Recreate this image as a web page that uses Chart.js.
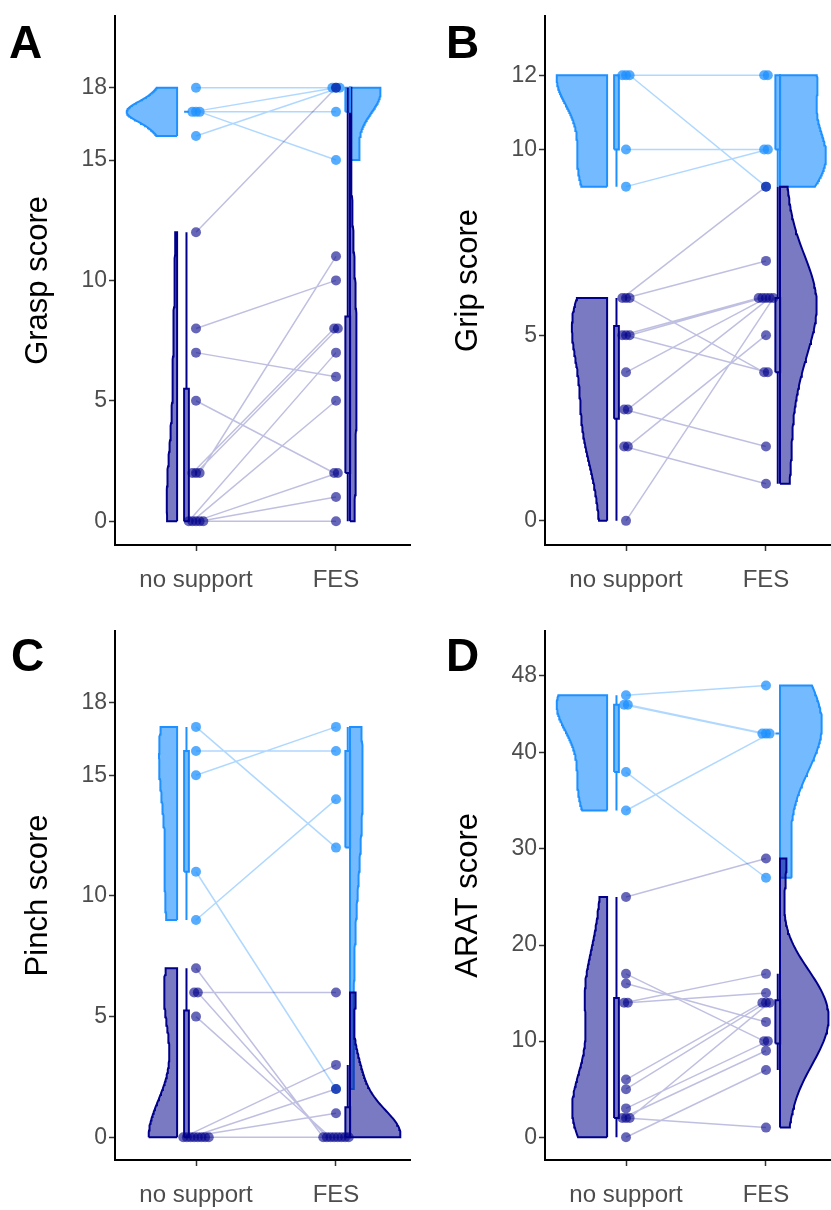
<!DOCTYPE html>
<html>
<head>
<meta charset="utf-8">
<script src="https://cdn.jsdelivr.net/npm/chart.js@4.4.0/dist/chart.umd.min.js"></script>
<style>
  body { margin: 0; width: 831px; height: 1210px; overflow: hidden; background: #fff; position: relative;
         font-family: "Liberation Sans", Arial, sans-serif; }
  canvas { position: absolute; }
  .tag { position: absolute; font-weight: bold; font-size: 46px; line-height: 1; color: #000; }
</style>
</head>
<body>
<canvas id="cA" width="430" height="615" style="left:0;top:0"></canvas>
<canvas id="cB" width="430" height="615" style="left:430px;top:0"></canvas>
<canvas id="cC" width="430" height="615" style="left:0;top:615px"></canvas>
<canvas id="cD" width="430" height="615" style="left:430px;top:615px"></canvas>
<div class="tag" style="left:9px;top:19px">A</div>
<div class="tag" style="left:446px;top:19px">B</div>
<div class="tag" style="left:11px;top:632px">C</div>
<div class="tag" style="left:446px;top:632px">D</div>
<script>
// conditions on the x axis
const conditions = ['no support', 'FES'];

// A: grasp score, paired per patient (light = upper subgroup, dark = lower subgroup)
const graspLightNS  = [18, 17, 17, 17, 16];
const graspLightFES = [18, 18, 17, 15, 18];
const graspDarkNS   = [12, 8, 7, 5, 2, 2, 2, 0, 0, 0, 0, 0];
const graspDarkFES  = [18, 10, 6, 2, 8, 8, 11, 7, 5, 2, 1, 0];
const graspTicks    = [0, 5, 10, 15, 18];

// B: grip score
const gripLightNS  = [12, 12, 12, 10, 9];
const gripLightFES = [12, 12, 9, 10, 10];
const gripDarkNS   = [6, 6, 6, 5, 5, 5, 4, 3, 3, 2, 2, 0];
const gripDarkFES  = [9, 7, 4, 6, 4, 6, 6, 2, 6, 1, 5, 6];
const gripTicks    = [0, 5, 10, 12];

// C: pinch score
const pinchLightNS  = [17, 16, 15, 11, 9];
const pinchLightFES = [12, 16, 17, 2, 14];
const pinchDarkNS   = [7, 6, 6, 5, 0, 0, 0, 0, 0, 0, 0, 0];
const pinchDarkFES  = [0, 6, 0, 0, 3, 1, 2, 0, 0, 0, 0, 0];
const pinchTicks    = [0, 5, 10, 15, 18];

// D: ARAT score
const aratLightNS  = [46, 45, 45, 38, 34];
const aratLightFES = [47, 42, 42, 27, 42];
const aratDarkNS   = [25, 17, 16, 14, 14, 6, 5, 3, 2, 2, 2, 0];
const aratDarkFES  = [29, 10, 12, 17, 15, 14, 14, 10, 9, 1, 14, 7];
const aratTicks    = [0, 10, 20, 30, 40, 48];

Chart.defaults.font.family = '"Liberation Sans", Arial, sans-serif';

const LIGHT = { stroke: 'rgb(30,144,255)', fill: 'rgba(30,144,255,0.62)', point: 'rgba(30,144,255,0.75)', line: 'rgba(30,144,255,0.35)' };
const DARK  = { stroke: 'rgb(0,0,139)', fill: 'rgba(0,0,139,0.52)', point: 'rgba(0,0,139,0.6)', line: 'rgba(0,0,139,0.25)' };

function quantile(arr, p) {
  const s = [...arr].sort((a, b) => a - b);
  const h = (s.length - 1) * p, lo = Math.floor(h);
  const hi = Math.min(lo + 1, s.length - 1);
  return s[lo] + (h - lo) * (s[hi] - s[lo]);
}

// rule-of-thumb bandwidth from the standard deviation
function bandwidth(v) {
  const n = v.length;
  const m = v.reduce((a, b) => a + b, 0) / n;
  const sd = Math.sqrt(v.reduce((a, b) => a + (b - m) ** 2, 0) / (n - 1)) || 1;
  return 0.9 * sd * Math.pow(n, -0.2);
}

function kde(v, bw, y) {
  let s = 0;
  v.forEach(x => { s += Math.exp(-0.5 * ((y - x) / bw) ** 2); });
  return s / (v.length * bw * Math.sqrt(2 * Math.PI));
}

function boxStats(v) {
  const q1 = quantile(v, 0.25), q3 = quantile(v, 0.75), iqr = q3 - q1;
  const inside = v.filter(x => x >= q1 - 1.5 * iqr && x <= q3 + 1.5 * iqr);
  return { q1, q3, lo: Math.min(...inside), hi: Math.max(...inside) };
}

// spread tied values a little so they don't sit exactly on top of each other
function spread(values, pos) {
  const counts = {}, seen = {};
  values.forEach(v => { counts[v] = (counts[v] || 0) + 1; });
  return values.map(v => {
    seen[v] = seen[v] === undefined ? 0 : seen[v] + 1;
    return { x: pos + (seen[v] - (counts[v] - 1) / 2) * 0.026, y: v };
  });
}

const sides = [
  { key: 'ns',  pos: 1, base: -0.135, box: -0.068, dir: -1 },
  { key: 'fes', pos: 2, base: 0.1,    box: 0.084,  dir: 1 }
];

function makePanel(id, title, ticks, yMin, yMax, groups) {
  const datasets = [];
  const profiles = [];
  groups.forEach((g, gi) => sides.forEach(s => {
    const v = g[s.key];
    const bw = bandwidth(v);
    const lo = Math.min(...v), hi = Math.max(...v);
    const pts = [];
    for (let i = 0; i <= 100; i++) {
      const y = lo + (hi - lo) * i / 100;
      pts.push({ y, d: kde(v, bw, y) });
    }
    profiles.push({ g, gi, s, pts, lo, hi });
  }));
  const maxD = Math.max(...profiles.flatMap(p => p.pts.map(q => q.d)));

  profiles.forEach(p => {
    const c = p.g.color;
    const base = p.s.pos + p.s.base;
    const data = [{ x: base, y: p.lo }];
    p.pts.forEach(q => data.push({ x: base + p.s.dir * q.d / maxD * 0.36, y: q.y }));
    data.push({ x: base, y: p.hi }, { x: base, y: p.lo });
    datasets.push({ data, borderColor: c.stroke, backgroundColor: c.fill, borderWidth: 2,
      fill: 'shape', pointRadius: 0, tension: 0, order: 20 - p.gi });

    const b = boxStats(p.g[p.s.key]);
    const bx = p.s.pos + p.s.box, hw = 0.017;
    datasets.push({ data: [{ x: bx - hw, y: b.q1 }, { x: bx + hw, y: b.q1 }, { x: bx + hw, y: b.q3 },
      { x: bx - hw, y: b.q3 }, { x: bx - hw, y: b.q1 }],
      borderColor: c.stroke, backgroundColor: c.fill, borderWidth: 2, fill: 'shape', pointRadius: 0, order: 16 - p.gi });
    datasets.push({ data: [{ x: bx, y: b.lo }, { x: bx, y: b.q1 }, { x: bx, y: null }, { x: bx, y: b.q3 }, { x: bx, y: b.hi }],
      borderColor: c.stroke, borderWidth: 2, fill: false, pointRadius: 0, order: 16 - p.gi });
  });

  groups.forEach((g, gi) => {
    const a = spread(g.ns, 1), b = spread(g.fes, 2);
    const lines = [];
    a.forEach((p, i) => { lines.push(p, b[i], { x: 1.5, y: null }); });
    datasets.push({ data: lines, borderColor: g.color.line, borderWidth: 1.5, fill: false, pointRadius: 0, order: 12 - gi });
    datasets.push({ data: a.concat(b), showLine: false, pointRadius: 5, pointHoverRadius: 5,
      pointBackgroundColor: g.color.point, pointBorderWidth: 0, order: 8 - gi });
  });

  new Chart(document.getElementById(id), {
    type: 'line',
    data: { datasets },
    options: {
      responsive: false,
      animation: false,
      layout: { padding: { left: 0, right: 20, top: 10, bottom: 10 } },
      plugins: { legend: { display: false }, tooltip: { enabled: false } },
      scales: {
        x: {
          type: 'linear', min: 0.4214, max: 2.5286,
          afterBuildTicks: s => { s.ticks = [1, 2].map(v => ({ value: v })); },
          afterFit: s => { s.height = 60; },
          ticks: { callback: v => conditions[v - 1], font: { size: 24 }, color: '#4d4d4d', padding: 15, autoSkip: false, maxRotation: 0 },
          grid: { drawOnChartArea: false, drawTicks: true, tickLength: 6, tickColor: '#333', tickWidth: 1.5 },
          border: { color: '#000', width: 2 }
        },
        y: {
          type: 'linear', min: yMin, max: yMax,
          afterBuildTicks: s => { s.ticks = ticks.map(v => ({ value: v })); },
          afterFit: s => { s.width = 115; },
          ticks: { font: { size: 23 }, color: '#4d4d4d', padding: 2, autoSkip: false },
          grid: { drawOnChartArea: false, drawTicks: true, tickLength: 6, tickColor: '#333', tickWidth: 1.5 },
          border: { color: '#000', width: 2 },
          title: { display: true, text: title, color: '#000', font: { size: 31 }, padding: { top: 20, bottom: 0 } }
        }
      }
    }
  });
}

makePanel('cA', 'Grasp score', graspTicks, -0.99, 20.99, [
  { ns: graspLightNS, fes: graspLightFES, color: LIGHT },
  { ns: graspDarkNS, fes: graspDarkFES, color: DARK }
]);
makePanel('cB', 'Grip score', gripTicks, -0.65, 13.6, [
  { ns: gripLightNS, fes: gripLightFES, color: LIGHT },
  { ns: gripDarkNS, fes: gripDarkFES, color: DARK }
]);
makePanel('cC', 'Pinch score', pinchTicks, -0.94, 20.98, [
  { ns: pinchLightNS, fes: pinchLightFES, color: LIGHT },
  { ns: pinchDarkNS, fes: pinchDarkFES, color: DARK }
]);
makePanel('cD', 'ARAT score', aratTicks, -2.37, 52.7, [
  { ns: aratLightNS, fes: aratLightFES, color: LIGHT },
  { ns: aratDarkNS, fes: aratDarkFES, color: DARK }
]);
</script>
</body>
</html>
